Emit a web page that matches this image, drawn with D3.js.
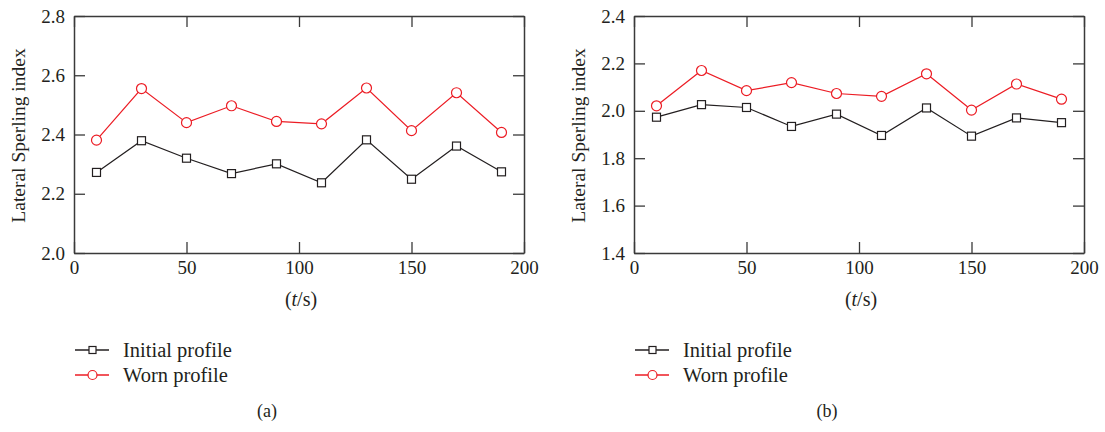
<!DOCTYPE html>
<html>
<head>
<meta charset="utf-8">
<script src="https://cdn.jsdelivr.net/npm/d3@7"></script>
<style>
  body { margin: 0; background: #fff; }
  svg text { font-family: "Liberation Serif", "DejaVu Serif", serif; fill: #231f20; }
</style>
</head>
<body>
<div id="chart"></div>
<script>
// time (s)
const times = [10, 30, 50, 70, 90, 110, 130, 150, 170, 190];

// (a)
const initialA = [2.272, 2.379, 2.320, 2.268, 2.301, 2.237, 2.382, 2.249, 2.361, 2.274];
const wornA    = [2.381, 2.555, 2.440, 2.497, 2.444, 2.436, 2.557, 2.413, 2.541, 2.407];

// (b)
const initialB = [1.973, 2.026, 2.014, 1.934, 1.986, 1.896, 2.012, 1.893, 1.970, 1.950];
const wornB    = [2.021, 2.170, 2.085, 2.119, 2.073, 2.061, 2.156, 2.003, 2.113, 2.049];

const xTicks = [0, 50, 100, 150, 200];
const yTicksA = [2.0, 2.2, 2.4, 2.6, 2.8];
const yTicksB = [1.4, 1.6, 1.8, 2.0, 2.2, 2.4];

const seriesNames = ["Initial profile", "Worn profile"];
const panelLabels = ["(a)", "(b)"];

const width = 1105, height = 432;
const svg = d3.select("#chart").append("svg").attr("width", width).attr("height", height);

const black = "#231f20", red = "#ec1c24", axisCol = "#3a3a3a";

function drawPanel(left, ySpan, yTicks, initial, worn, label) {
  const pw = 450, top = 16, bottom = 253;
  const x = d3.scaleLinear().domain([0, 200]).range([left, left + pw]);
  const y = d3.scaleLinear().domain(ySpan).range([bottom, top]);
  const g = svg.append("g");

  // axes, ticks inward on all four sides
  const fmt = d3.format(".1f");
  g.append("g").attr("transform", "translate(0," + bottom + ")")
    .call(d3.axisBottom(x).tickValues(xTicks).tickSizeInner(-11).tickSizeOuter(0).tickPadding(8));
  g.append("g").attr("transform", "translate(0," + top + ")")
    .call(d3.axisTop(x).tickValues(xTicks).tickSizeInner(-11).tickSizeOuter(0).tickFormat(""));
  g.append("g").attr("transform", "translate(" + left + ",0)")
    .call(d3.axisLeft(y).tickValues(yTicks).tickSizeInner(-11).tickSizeOuter(0).tickPadding(9).tickFormat(fmt));
  g.append("g").attr("transform", "translate(" + (left + pw) + ",0)")
    .call(d3.axisRight(y).tickValues(yTicks).tickSizeInner(-11).tickSizeOuter(0).tickFormat(""));

  g.selectAll(".domain").attr("stroke", axisCol).attr("stroke-width", 1.5);
  g.selectAll(".tick line").attr("stroke", axisCol).attr("stroke-width", 1.3);
  g.selectAll(".tick text").attr("font-size", 19).attr("fill", black)
    .attr("font-family", "Liberation Serif, serif");

  // axis titles
  g.append("text")
    .attr("transform", "translate(" + (left - 56) + "," + ((top + bottom) / 2 + 1) + ") rotate(-90)")
    .attr("text-anchor", "middle").attr("dy", "0.35em").attr("font-size", 19.5)
    .text("Lateral Sperling index");
  const xl = g.append("text").attr("x", (left + left + pw) / 2 + 2).attr("y", 306)
    .attr("text-anchor", "middle").attr("font-size", 20);
  xl.append("tspan").text("(");
  xl.append("tspan").attr("font-style", "italic").text("t");
  xl.append("tspan").text("/s)");

  const line = d3.line().x((d, i) => x(times[i])).y(d => y(d));

  // initial profile
  g.append("path").datum(initial).attr("d", line)
    .attr("fill", "none").attr("stroke", black).attr("stroke-width", 1.2);
  g.selectAll(".sq").data(initial).enter().append("rect")
    .attr("x", (d, i) => x(times[i]) - 4).attr("y", d => y(d) - 4)
    .attr("width", 8).attr("height", 8)
    .attr("fill", "#fff").attr("stroke", black).attr("stroke-width", 1.2);

  // worn profile
  g.append("path").datum(worn).attr("d", line)
    .attr("fill", "none").attr("stroke", red).attr("stroke-width", 1.2);
  g.selectAll(".ci").data(worn).enter().append("circle")
    .attr("cx", (d, i) => x(times[i])).attr("cy", d => y(d)).attr("r", 5)
    .attr("fill", "#fff").attr("stroke", red).attr("stroke-width", 1.2);

  // legend
  const lx = left + 1, ly = [350, 375];
  const lg = g.append("g");
  lg.append("line").attr("x1", lx).attr("x2", lx + 34).attr("y1", ly[0]).attr("y2", ly[0])
    .attr("stroke", black).attr("stroke-width", 1.3);
  lg.append("rect").attr("x", lx + 14).attr("y", ly[0] - 3.5).attr("width", 7).attr("height", 7)
    .attr("fill", "#fff").attr("stroke", black).attr("stroke-width", 1.2);
  lg.append("line").attr("x1", lx).attr("x2", lx + 34).attr("y1", ly[1]).attr("y2", ly[1])
    .attr("stroke", red).attr("stroke-width", 1.3);
  lg.append("circle").attr("cx", lx + 17.5).attr("cy", ly[1]).attr("r", 4.5)
    .attr("fill", "#fff").attr("stroke", red).attr("stroke-width", 1.2);
  seriesNames.forEach((s, i) => {
    lg.append("text").attr("x", lx + 48).attr("y", ly[i]).attr("dy", "0.35em")
      .attr("font-size", 20.5).text(s);
  });

  g.append("text").attr("x", left + 193).attr("y", 411).attr("dy", "0.35em")
    .attr("text-anchor", "middle").attr("font-size", 18).text(label);
}

drawPanel(74, [2.0, 2.8], yTicksA, initialA, wornA, panelLabels[0]);
drawPanel(634, [1.4, 2.4], yTicksB, initialB, wornB, panelLabels[1]);
</script>
</body>
</html>
